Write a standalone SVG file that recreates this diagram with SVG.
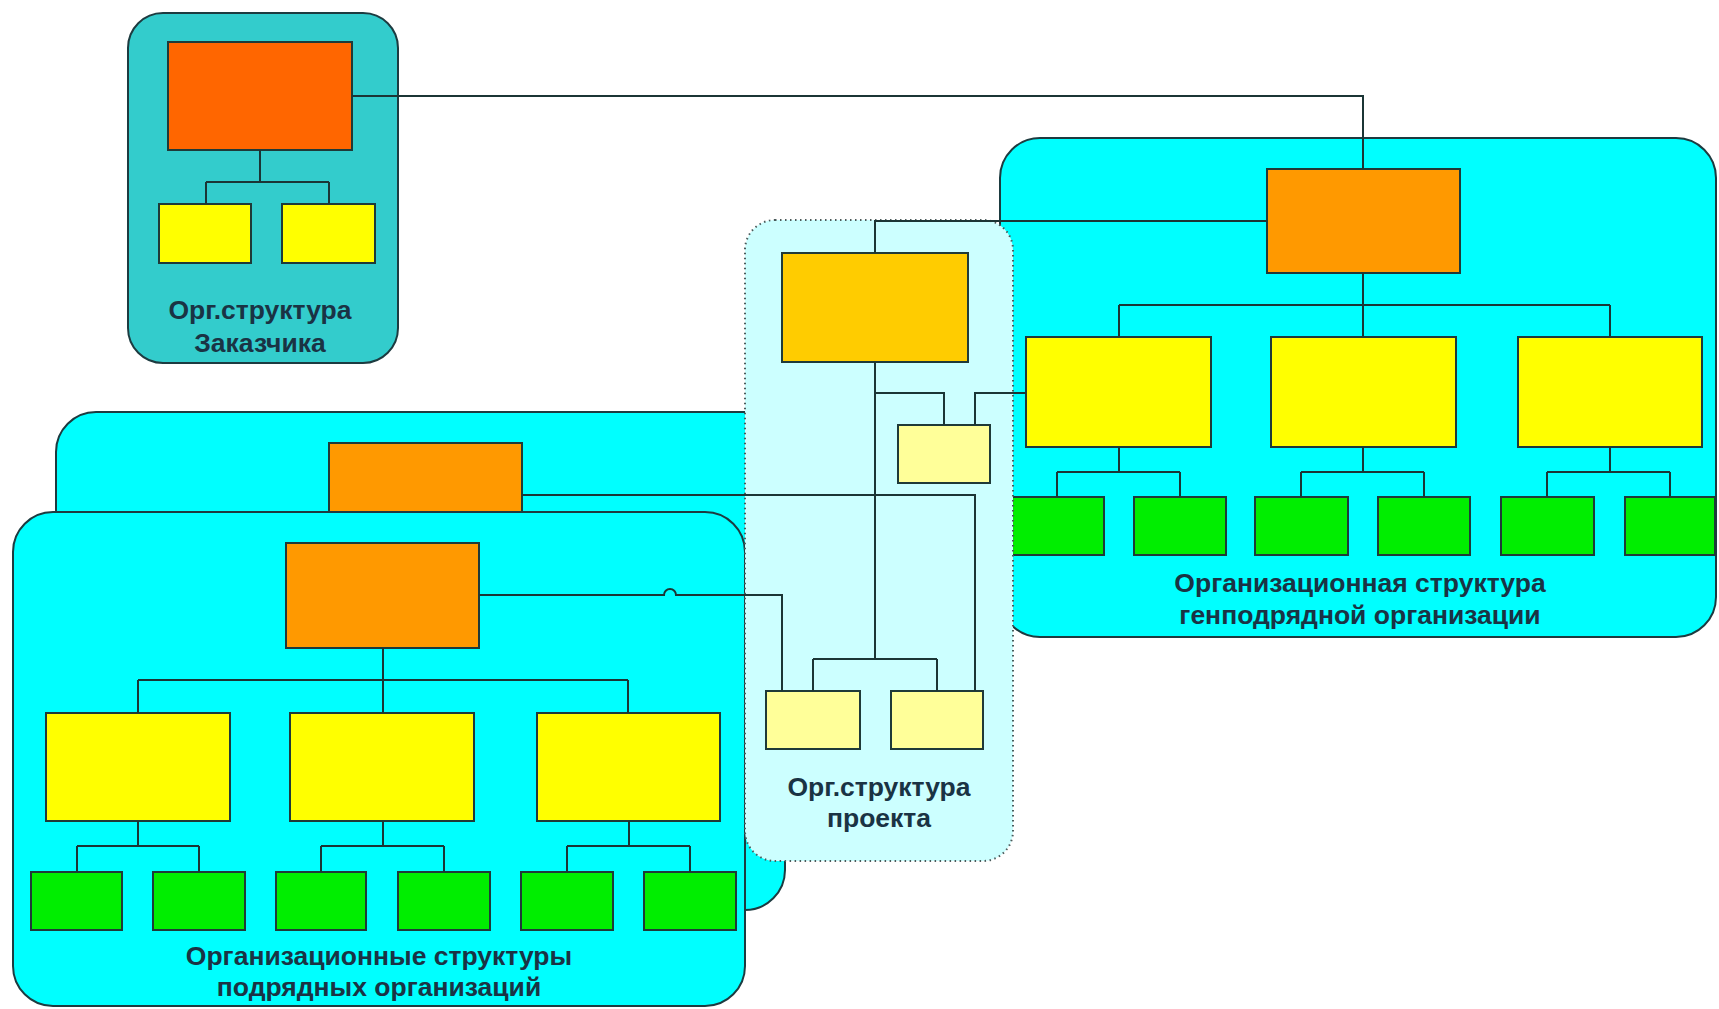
<svg xmlns="http://www.w3.org/2000/svg" width="1719" height="1009" viewBox="0 0 1719 1009">
<style>
.cont{stroke:#1d3b40;stroke-width:2}
.box{stroke:#1f3a38;stroke-width:2}
.or{fill:#FF9900}
.yl{fill:#FFFF00}
.gr{fill:#00EE00}
.pl{fill:#FFFF99}
.lbl{font-family:"Liberation Sans",Arial,sans-serif;font-weight:bold;font-size:26.5px;fill:#1a3344;text-anchor:middle}
.conn{fill:none;stroke:#1b3535;stroke-width:2}
</style>
<rect x="0" y="0" width="1719" height="1009" fill="#ffffff"/>

<g id="customer">
<rect class="cont" x="128" y="13" width="270" height="350" rx="35" fill="#33CCCC"/>
<rect class="box" x="168" y="42" width="184" height="108" fill="#FF6600"/>
<rect class="box yl" x="159" y="204" width="92" height="59"/>
<rect class="box yl" x="282" y="204" width="93" height="59"/>
<path class="conn" d="M260,150V182M206,182H329M206,182V204M329,182V204"/>
<text class="lbl" x="260" y="319">Орг.структура</text>
<text class="lbl" x="260" y="352">Заказчика</text>
</g>

<g id="general-contractor">
<rect class="cont" x="1000" y="138" width="716" height="499" rx="40" fill="#00FFFF"/>
<rect class="box or" x="1267" y="169" width="193" height="104"/>
<rect class="box yl" x="1026" y="337" width="185" height="110"/>
<rect class="box yl" x="1271" y="337" width="185" height="110"/>
<rect class="box yl" x="1518" y="337" width="184" height="110"/>
<rect class="box gr" x="1011" y="497" width="93" height="58"/>
<rect class="box gr" x="1134" y="497" width="92" height="58"/>
<rect class="box gr" x="1255" y="497" width="93" height="58"/>
<rect class="box gr" x="1378" y="497" width="92" height="58"/>
<rect class="box gr" x="1501" y="497" width="93" height="58"/>
<rect class="box gr" x="1625" y="497" width="90" height="58"/>
<path class="conn" d="M1363,273V305M1119,305H1610M1119,305V337M1363,305V337M1610,305V337M1119,447V472M1057,472H1180M1057,472V497M1180,472V497M1363,447V472M1301,472H1424M1301,472V497M1424,472V497M1610,447V472M1547,472H1670M1547,472V497M1670,472V497"/>
<text class="lbl" x="1360" y="592">Организационная структура</text>
<text class="lbl" x="1360" y="624">генподрядной организации</text>
</g>

<g id="subcontractor-back">
<rect class="cont" x="56" y="412" width="729" height="498" rx="40" fill="#00FFFF"/>
<rect class="box or" x="329" y="443" width="193" height="104"/>
</g>

<g id="subcontractors">
<rect class="cont" x="13" y="512" width="732" height="494" rx="40" fill="#00FFFF"/>
<rect class="box or" x="286" y="543" width="193" height="105"/>
<rect class="box yl" x="46" y="713" width="184" height="108"/>
<rect class="box yl" x="290" y="713" width="184" height="108"/>
<rect class="box yl" x="537" y="713" width="183" height="108"/>
<rect class="box gr" x="31" y="872" width="91" height="58"/>
<rect class="box gr" x="153" y="872" width="92" height="58"/>
<rect class="box gr" x="276" y="872" width="90" height="58"/>
<rect class="box gr" x="398" y="872" width="92" height="58"/>
<rect class="box gr" x="521" y="872" width="92" height="58"/>
<rect class="box gr" x="644" y="872" width="92" height="58"/>
<path class="conn" d="M383,648V680M138,680H628M138,680V713M383,680V713M628,680V713M138,821V846M77,846H199M77,846V872M199,846V872M383,821V846M321,846H444M321,846V872M444,846V872M629,821V846M567,846H690M567,846V872M690,846V872"/>
<text class="lbl" x="379" y="965">Организационные структуры</text>
<text class="lbl" x="379" y="996">подрядных организаций</text>
</g>

<g id="project">
<rect x="745" y="220" width="268" height="641" rx="30" fill="#CCFFFF" stroke="#4a5a5a" stroke-width="2" stroke-dasharray="1.5 3.5"/>
<rect class="box" x="782" y="253" width="186" height="109" fill="#FFCC00"/>
<rect class="box pl" x="898" y="425" width="92" height="58"/>
<rect class="box pl" x="766" y="691" width="94" height="58"/>
<rect class="box pl" x="891" y="691" width="92" height="58"/>
<text class="lbl" x="879" y="796">Орг.структура</text>
<text class="lbl" x="879" y="827">проекта</text>
</g>

<g id="connectors">
<path class="conn" d="M352,96H1363V169"/>
<path class="conn" d="M1267,221H875V253"/>
<path class="conn" d="M875,362V659M875,393H944V425M813,659H937M813,659V691M937,659V691"/>
<path class="conn" d="M1026,393H975V425"/>
<path class="conn" d="M522,495H975V691"/>
<path class="conn" d="M479,595H664a6,6 0 0 1 12,0H782V691"/>
</g>
</svg>
